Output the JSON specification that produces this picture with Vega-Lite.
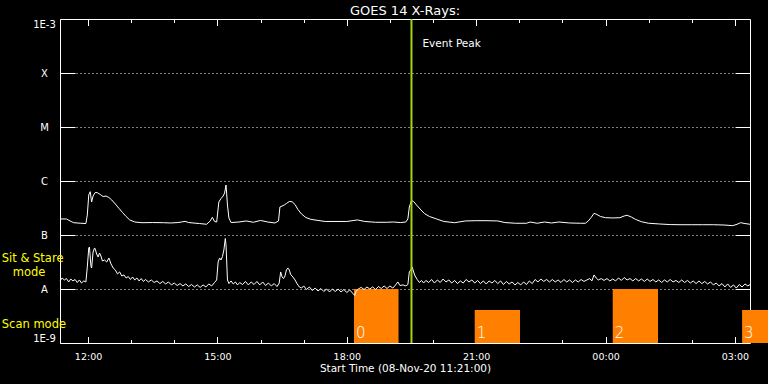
{
  "$schema": "https://vega.github.io/schema/vega-lite/v6.json",
  "width": 690,
  "height": 324,
  "autosize": "none",
  "padding": {"left": 60, "top": 19, "right": 18, "bottom": 41},
  "background": "black",
  "title": {"text": "GOES 14 X-Rays:", "color": "white", "font": "DejaVu Sans", "fontSize": 13, "fontWeight": "normal", "anchor": "middle", "frame": "group", "offset": 0},
  "config": {
    "view": {"stroke": "white", "strokeWidth": 1},
    "axis": {"domain": false, "grid": false, "labelFont": "DejaVu Sans", "labelColor": "white", "tickColor": "white", "titleColor": "white", "titleFont": "DejaVu Sans", "titleFontWeight": "normal"}
  },
  "datasets": {
    "scans": [
      {"start": 18.167, "end": 19.2, "top": 1e-8, "scan": "0"},
      {"start": 20.967, "end": 22.017, "top": 4.1e-9, "scan": "1"},
      {"start": 24.167, "end": 25.217, "top": 1e-8, "scan": "2"},
      {"start": 27.167, "end": 27.85, "top": 4.1e-9, "scan": "3"}
    ],
    "event": [{"h": 19.5, "label": "Event Peak", "v": 3.03e-4}],
    "modes": [
      {"label": "Sit & Stare", "v": 3.16e-8},
      {"label": "mode", "v": 1.74e-8},
      {"label": "Scan mode", "v": 1.87e-9}
    ],
    "long": [
      {"h":11.35,"v":1.98e-7},{"h":11.5,"v":1.98e-7},{"h":11.583,"v":1.82e-7},{"h":11.667,"v":1.69e-7},{"h":11.833,"v":1.65e-7},{"h":11.95,"v":1.63e-7},{"h":11.983,"v":2.35e-7},{"h":12.017,"v":5.51e-7},{"h":12.05,"v":6.34e-7},{"h":12.083,"v":4.08e-7},{"h":12.117,"v":5.27e-7},{"h":12.167,"v":6.13e-7},{"h":12.217,"v":6.08e-7},{"h":12.283,"v":5.62e-7},{"h":12.35,"v":5.16e-7},{"h":12.417,"v":5.27e-7},{"h":12.483,"v":4.95e-7},{"h":12.55,"v":4.45e-7},{"h":12.633,"v":3.75e-7},{"h":12.717,"v":3.12e-7},{"h":12.8,"v":2.61e-7},{"h":12.883,"v":2.20e-7},{"h":12.967,"v":1.90e-7},{"h":13.083,"v":1.74e-7},{"h":13.25,"v":1.69e-7},{"h":13.5,"v":1.70e-7},{"h":13.75,"v":1.69e-7},{"h":13.917,"v":1.67e-7},{"h":14.083,"v":1.70e-7},{"h":14.167,"v":1.74e-7},{"h":14.25,"v":1.79e-7},{"h":14.333,"v":1.70e-7},{"h":14.583,"v":1.63e-7},{"h":14.75,"v":1.58e-7},{"h":14.833,"v":1.82e-7},{"h":14.883,"v":2.13e-7},{"h":14.933,"v":1.78e-7},{"h":14.983,"v":1.74e-7},{"h":15.033,"v":4.08e-7},{"h":15.083,"v":4.74e-7},{"h":15.133,"v":5.27e-7},{"h":15.167,"v":6.00e-7},{"h":15.2,"v":8.43e-7},{"h":15.233,"v":3.59e-7},{"h":15.267,"v":2.07e-7},{"h":15.317,"v":1.70e-7},{"h":15.5,"v":1.74e-7},{"h":15.667,"v":1.82e-7},{"h":15.833,"v":1.72e-7},{"h":16.0,"v":1.86e-7},{"h":16.167,"v":1.74e-7},{"h":16.333,"v":1.67e-7},{"h":16.417,"v":1.82e-7},{"h":16.45,"v":3.30e-7},{"h":16.5,"v":3.44e-7},{"h":16.55,"v":3.59e-7},{"h":16.6,"v":3.83e-7},{"h":16.667,"v":4.17e-7},{"h":16.733,"v":4.13e-7},{"h":16.8,"v":3.67e-7},{"h":16.867,"v":2.97e-7},{"h":16.95,"v":2.45e-7},{"h":17.05,"v":2.11e-7},{"h":17.167,"v":1.95e-7},{"h":17.333,"v":1.86e-7},{"h":17.5,"v":1.78e-7},{"h":17.75,"v":1.78e-7},{"h":18.0,"v":1.78e-7},{"h":18.167,"v":1.86e-7},{"h":18.25,"v":1.90e-7},{"h":18.417,"v":1.78e-7},{"h":18.667,"v":1.72e-7},{"h":18.917,"v":1.72e-7},{"h":19.083,"v":1.74e-7},{"h":19.25,"v":1.70e-7},{"h":19.367,"v":1.74e-7},{"h":19.417,"v":1.98e-7},{"h":19.45,"v":3.30e-7},{"h":19.5,"v":4.35e-7},{"h":19.55,"v":4.17e-7},{"h":19.617,"v":3.59e-7},{"h":19.7,"v":3.03e-7},{"h":19.8,"v":2.50e-7},{"h":19.917,"v":2.20e-7},{"h":20.083,"v":1.98e-7},{"h":20.25,"v":1.78e-7},{"h":20.5,"v":1.69e-7},{"h":20.75,"v":1.82e-7},{"h":21.0,"v":1.84e-7},{"h":21.25,"v":1.84e-7},{"h":21.5,"v":1.82e-7},{"h":21.667,"v":1.70e-7},{"h":21.917,"v":1.65e-7},{"h":22.167,"v":1.65e-7},{"h":22.25,"v":1.74e-7},{"h":22.417,"v":1.65e-7},{"h":22.583,"v":1.74e-7},{"h":22.75,"v":1.67e-7},{"h":22.917,"v":1.74e-7},{"h":23.167,"v":1.67e-7},{"h":23.417,"v":1.65e-7},{"h":23.533,"v":1.65e-7},{"h":23.6,"v":1.82e-7},{"h":23.667,"v":2.11e-7},{"h":23.733,"v":2.52e-7},{"h":23.8,"v":2.40e-7},{"h":23.883,"v":2.20e-7},{"h":24.0,"v":2.09e-7},{"h":24.167,"v":2.07e-7},{"h":24.333,"v":2.09e-7},{"h":24.433,"v":2.25e-7},{"h":24.5,"v":2.32e-7},{"h":24.6,"v":2.15e-7},{"h":24.7,"v":1.94e-7},{"h":24.833,"v":1.76e-7},{"h":25.0,"v":1.65e-7},{"h":25.25,"v":1.60e-7},{"h":25.5,"v":1.56e-7},{"h":25.75,"v":1.55e-7},{"h":26.0,"v":1.55e-7},{"h":26.25,"v":1.55e-7},{"h":26.5,"v":1.55e-7},{"h":26.75,"v":1.53e-7},{"h":26.95,"v":1.49e-7},{"h":27.05,"v":1.58e-7},{"h":27.133,"v":1.69e-7},{"h":27.233,"v":1.63e-7},{"h":27.35,"v":1.58e-7}
    ],
    "short": [
      {"h":11.35,"v":1.41e-8},{"h":11.4,"v":1.60e-8},{"h":11.45,"v":1.47e-8},{"h":11.5,"v":1.56e-8},{"h":11.55,"v":1.35e-8},{"h":11.6,"v":1.53e-8},{"h":11.65,"v":1.41e-8},{"h":11.7,"v":1.50e-8},{"h":11.75,"v":1.32e-8},{"h":11.8,"v":1.47e-8},{"h":11.85,"v":1.29e-8},{"h":11.9,"v":1.41e-8},{"h":11.95,"v":1.35e-8},{"h":11.983,"v":2.56e-8},{"h":12.017,"v":5.75e-8},{"h":12.033,"v":6.00e-8},{"h":12.067,"v":2.67e-8},{"h":12.083,"v":2.45e-8},{"h":12.117,"v":4.84e-8},{"h":12.15,"v":5.75e-8},{"h":12.167,"v":5.51e-8},{"h":12.2,"v":4.45e-8},{"h":12.233,"v":3.91e-8},{"h":12.267,"v":4.64e-8},{"h":12.3,"v":4.08e-8},{"h":12.333,"v":3.30e-8},{"h":12.383,"v":3.44e-8},{"h":12.433,"v":3.16e-8},{"h":12.483,"v":3.75e-8},{"h":12.533,"v":2.91e-8},{"h":12.583,"v":2.45e-8},{"h":12.633,"v":2.25e-8},{"h":12.683,"v":1.90e-8},{"h":12.733,"v":2.07e-8},{"h":12.783,"v":1.74e-8},{"h":12.833,"v":1.82e-8},{"h":12.883,"v":1.60e-8},{"h":12.933,"v":1.70e-8},{"h":12.983,"v":1.50e-8},{"h":13.033,"v":1.67e-8},{"h":13.083,"v":1.47e-8},{"h":13.133,"v":1.60e-8},{"h":13.183,"v":1.41e-8},{"h":13.233,"v":1.56e-8},{"h":13.283,"v":1.38e-8},{"h":13.333,"v":1.50e-8},{"h":13.4,"v":1.35e-8},{"h":13.467,"v":1.47e-8},{"h":13.533,"v":1.32e-8},{"h":13.6,"v":1.41e-8},{"h":13.667,"v":1.26e-8},{"h":13.733,"v":1.38e-8},{"h":13.8,"v":1.24e-8},{"h":13.867,"v":1.35e-8},{"h":13.933,"v":1.19e-8},{"h":14.0,"v":1.29e-8},{"h":14.067,"v":1.16e-8},{"h":14.133,"v":1.26e-8},{"h":14.2,"v":1.14e-8},{"h":14.267,"v":1.24e-8},{"h":14.333,"v":1.11e-8},{"h":14.4,"v":1.21e-8},{"h":14.467,"v":1.09e-8},{"h":14.533,"v":1.19e-8},{"h":14.6,"v":1.07e-8},{"h":14.667,"v":1.19e-8},{"h":14.733,"v":1.09e-8},{"h":14.8,"v":1.24e-8},{"h":14.867,"v":1.14e-8},{"h":14.933,"v":1.32e-8},{"h":14.983,"v":1.47e-8},{"h":15.017,"v":3.16e-8},{"h":15.05,"v":3.75e-8},{"h":15.083,"v":3.44e-8},{"h":15.117,"v":3.99e-8},{"h":15.15,"v":5.27e-8},{"h":15.183,"v":8.62e-8},{"h":15.2,"v":6.53e-8},{"h":15.233,"v":1.47e-8},{"h":15.267,"v":1.26e-8},{"h":15.317,"v":1.41e-8},{"h":15.367,"v":1.24e-8},{"h":15.417,"v":1.35e-8},{"h":15.467,"v":1.19e-8},{"h":15.517,"v":1.32e-8},{"h":15.583,"v":1.21e-8},{"h":15.65,"v":1.38e-8},{"h":15.717,"v":1.19e-8},{"h":15.783,"v":1.35e-8},{"h":15.85,"v":1.21e-8},{"h":15.917,"v":1.38e-8},{"h":15.983,"v":1.19e-8},{"h":16.05,"v":1.35e-8},{"h":16.117,"v":1.16e-8},{"h":16.183,"v":1.29e-8},{"h":16.25,"v":1.14e-8},{"h":16.317,"v":1.26e-8},{"h":16.383,"v":1.11e-8},{"h":16.433,"v":1.29e-8},{"h":16.467,"v":2.07e-8},{"h":16.5,"v":1.67e-8},{"h":16.533,"v":1.56e-8},{"h":16.567,"v":1.74e-8},{"h":16.6,"v":2.25e-8},{"h":16.633,"v":2.45e-8},{"h":16.667,"v":2.25e-8},{"h":16.7,"v":1.85e-8},{"h":16.75,"v":1.67e-8},{"h":16.8,"v":1.47e-8},{"h":16.85,"v":1.24e-8},{"h":16.9,"v":1.09e-8},{"h":16.95,"v":1.04e-8},{"h":17.0,"v":1.14e-8},{"h":17.067,"v":0.979e-8},{"h":17.133,"v":1.09e-8},{"h":17.2,"v":0.938e-8},{"h":17.267,"v":1.04e-8},{"h":17.333,"v":0.918e-8},{"h":17.4,"v":1.02e-8},{"h":17.467,"v":0.899e-8},{"h":17.533,"v":1.00e-8},{"h":17.6,"v":0.880e-8},{"h":17.667,"v":1.00e-8},{"h":17.733,"v":0.899e-8},{"h":17.8,"v":1.00e-8},{"h":17.867,"v":0.880e-8},{"h":17.933,"v":0.979e-8},{"h":18.0,"v":0.861e-8},{"h":18.067,"v":0.958e-8},{"h":18.133,"v":0.843e-8},{"h":18.183,"v":0.758e-8},{"h":18.217,"v":0.918e-8},{"h":18.267,"v":1.00e-8},{"h":18.333,"v":1.07e-8},{"h":18.4,"v":0.979e-8},{"h":18.467,"v":1.09e-8},{"h":18.533,"v":1.00e-8},{"h":18.6,"v":1.09e-8},{"h":18.667,"v":0.979e-8},{"h":18.733,"v":1.11e-8},{"h":18.8,"v":1.02e-8},{"h":18.867,"v":1.14e-8},{"h":18.933,"v":1.02e-8},{"h":19.0,"v":1.14e-8},{"h":19.067,"v":1.04e-8},{"h":19.133,"v":1.19e-8},{"h":19.183,"v":1.35e-8},{"h":19.233,"v":1.16e-8},{"h":19.3,"v":1.19e-8},{"h":19.367,"v":1.14e-8},{"h":19.417,"v":1.21e-8},{"h":19.45,"v":2.07e-8},{"h":19.483,"v":2.25e-8},{"h":19.517,"v":2.56e-8},{"h":19.55,"v":2.07e-8},{"h":19.583,"v":1.74e-8},{"h":19.633,"v":1.50e-8},{"h":19.683,"v":1.32e-8},{"h":19.733,"v":1.44e-8},{"h":19.783,"v":1.29e-8},{"h":19.833,"v":1.44e-8},{"h":19.9,"v":1.32e-8},{"h":19.967,"v":1.50e-8},{"h":20.033,"v":1.29e-8},{"h":20.1,"v":1.47e-8},{"h":20.167,"v":1.32e-8},{"h":20.233,"v":1.53e-8},{"h":20.3,"v":1.35e-8},{"h":20.367,"v":1.47e-8},{"h":20.433,"v":1.29e-8},{"h":20.5,"v":1.44e-8},{"h":20.567,"v":1.26e-8},{"h":20.633,"v":1.41e-8},{"h":20.7,"v":1.29e-8},{"h":20.767,"v":1.50e-8},{"h":20.833,"v":1.35e-8},{"h":20.9,"v":1.47e-8},{"h":20.967,"v":1.29e-8},{"h":21.033,"v":1.44e-8},{"h":21.1,"v":1.26e-8},{"h":21.167,"v":1.41e-8},{"h":21.233,"v":1.24e-8},{"h":21.3,"v":1.41e-8},{"h":21.367,"v":1.29e-8},{"h":21.433,"v":1.44e-8},{"h":21.5,"v":1.26e-8},{"h":21.567,"v":1.41e-8},{"h":21.633,"v":1.21e-8},{"h":21.7,"v":1.38e-8},{"h":21.767,"v":1.24e-8},{"h":21.833,"v":1.35e-8},{"h":21.9,"v":1.19e-8},{"h":21.967,"v":1.32e-8},{"h":22.033,"v":1.19e-8},{"h":22.1,"v":1.35e-8},{"h":22.167,"v":1.21e-8},{"h":22.233,"v":1.41e-8},{"h":22.3,"v":1.26e-8},{"h":22.367,"v":1.50e-8},{"h":22.433,"v":1.35e-8},{"h":22.5,"v":1.53e-8},{"h":22.567,"v":1.38e-8},{"h":22.633,"v":1.50e-8},{"h":22.7,"v":1.35e-8},{"h":22.767,"v":1.50e-8},{"h":22.833,"v":1.35e-8},{"h":22.9,"v":1.47e-8},{"h":22.967,"v":1.32e-8},{"h":23.033,"v":1.50e-8},{"h":23.1,"v":1.35e-8},{"h":23.167,"v":1.47e-8},{"h":23.233,"v":1.32e-8},{"h":23.3,"v":1.47e-8},{"h":23.367,"v":1.35e-8},{"h":23.433,"v":1.50e-8},{"h":23.5,"v":1.38e-8},{"h":23.567,"v":1.47e-8},{"h":23.633,"v":1.56e-8},{"h":23.683,"v":1.41e-8},{"h":23.733,"v":1.82e-8},{"h":23.783,"v":1.60e-8},{"h":23.833,"v":1.47e-8},{"h":23.9,"v":1.56e-8},{"h":23.967,"v":1.44e-8},{"h":24.033,"v":1.56e-8},{"h":24.1,"v":1.41e-8},{"h":24.167,"v":1.53e-8},{"h":24.233,"v":1.41e-8},{"h":24.3,"v":1.60e-8},{"h":24.367,"v":1.44e-8},{"h":24.433,"v":1.63e-8},{"h":24.5,"v":1.47e-8},{"h":24.567,"v":1.56e-8},{"h":24.633,"v":1.41e-8},{"h":24.7,"v":1.56e-8},{"h":24.767,"v":1.41e-8},{"h":24.833,"v":1.53e-8},{"h":24.9,"v":1.38e-8},{"h":24.967,"v":1.53e-8},{"h":25.033,"v":1.38e-8},{"h":25.1,"v":1.50e-8},{"h":25.167,"v":1.35e-8},{"h":25.233,"v":1.47e-8},{"h":25.3,"v":1.32e-8},{"h":25.367,"v":1.47e-8},{"h":25.433,"v":1.35e-8},{"h":25.5,"v":1.50e-8},{"h":25.567,"v":1.35e-8},{"h":25.633,"v":1.44e-8},{"h":25.7,"v":1.32e-8},{"h":25.767,"v":1.47e-8},{"h":25.833,"v":1.32e-8},{"h":25.9,"v":1.44e-8},{"h":25.967,"v":1.29e-8},{"h":26.033,"v":1.41e-8},{"h":26.1,"v":1.26e-8},{"h":26.167,"v":1.41e-8},{"h":26.233,"v":1.26e-8},{"h":26.3,"v":1.38e-8},{"h":26.367,"v":1.24e-8},{"h":26.433,"v":1.35e-8},{"h":26.5,"v":1.19e-8},{"h":26.567,"v":1.29e-8},{"h":26.633,"v":1.14e-8},{"h":26.7,"v":1.26e-8},{"h":26.767,"v":1.09e-8},{"h":26.833,"v":1.24e-8},{"h":26.9,"v":1.07e-8},{"h":26.967,"v":1.19e-8},{"h":27.033,"v":1.04e-8},{"h":27.1,"v":1.21e-8},{"h":27.167,"v":1.09e-8},{"h":27.233,"v":1.24e-8},{"h":27.3,"v":1.14e-8},{"h":27.35,"v":1.21e-8}
    ]
  },
  "layer": [
    {
      "data": {"name": "scans"},
      "mark": {"type": "rect", "color": "#ff8000"},
      "encoding": {
        "x": {"field": "start", "type": "quantitative", "scale": {"domain": [11.35, 27.35], "nice": false, "zero": false},
          "axis": {"orient": "bottom", "values": [12, 13, 14, 15, 16, 17, 18, 19, 20, 21, 22, 23, 24, 25, 26, 27], "offset": -3.5, "tickSize": 3.5, "labels": false, "title": null}},
        "x2": {"field": "end"},
        "y": {"field": "top", "type": "quantitative", "scale": {"type": "log", "domain": [1e-9, 1e-3], "nice": false},
          "axis": {"orient": "right", "values": [1e-8, 1e-7, 1e-6, 1e-5, 1e-4], "offset": -15, "tickSize": 15, "labels": false, "title": null}},
        "y2": {"datum": 1e-9}
      }
    },
    {
      "data": {"name": "scans"},
      "mark": {"type": "text", "align": "left", "baseline": "alphabetic", "dx": 2, "dy": -5, "font": "DejaVu Sans", "fontSize": 15, "fontWeight": 200, "color": "white"},
      "encoding": {
        "x": {"field": "start", "type": "quantitative", "axis": {"orient": "top", "values": [12, 15, 18, 21, 24, 27], "offset": -6.5, "tickSize": 6.5, "labels": false, "title": null}},
        "y": {"datum": 1e-9, "axis": null},
        "text": {"field": "scan"}
      }
    },
    {
      "data": {"name": "long"},
      "mark": {"type": "line", "color": "white", "strokeWidth": 1},
      "encoding": {
        "x": {"field": "h", "type": "quantitative",
          "axis": {"orient": "bottom", "values": [12, 15, 18, 21, 24, 27], "labelExpr": "(datum.value % 24 < 10 ? '0' : '') + (datum.value % 24) + ':00'", "offset": -6.5, "tickSize": 6.5, "labelPadding": 8.5, "labelFontSize": 9.5, "labelFlush": false, "labelOverlap": false, "title": "Start Time (08-Nov-20 11:21:00)", "titleFontSize": 10.5, "titlePadding": 2}},
        "y": {"field": "v", "type": "quantitative",
          "axis": {"orient": "left", "values": [1e-9, 1e-8, 1e-7, 1e-6, 1e-5, 1e-4, 1e-3], "labelExpr": "datum.value > 0.0005 ? '1E-3' : datum.value > 0.00005 ? 'X' : datum.value > 0.000005 ? 'M' : datum.value > 0.0000005 ? 'C' : datum.value > 0.00000005 ? 'B' : datum.value > 0.000000005 ? 'A' : '1E-9'", "offset": -15, "tickSize": 15, "labelPadding": 16, "labelAlign": "center", "labelFontSize": 10, "labelFlush": true, "labelOverlap": false, "title": null}}
      }
    },
    {
      "data": {"name": "short"},
      "mark": {"type": "line", "color": "white", "strokeWidth": 1},
      "encoding": {
        "x": {"field": "h", "type": "quantitative", "axis": {"orient": "top", "values": [12, 13, 14, 15, 16, 17, 18, 19, 20, 21, 22, 23, 24, 25, 26, 27], "offset": -3.5, "tickSize": 3.5, "labels": false, "title": null}},
        "y": {"field": "v", "type": "quantitative", "axis": {"orient": "left", "values": [1e-8, 1e-7, 1e-6, 1e-5, 1e-4], "ticks": false, "labels": false, "title": null, "grid": true, "gridColor": "white", "gridDash": [1, 3], "gridOpacity": 1, "gridWidth": 1}}
      }
    },
    {
      "data": {"name": "event"},
      "mark": {"type": "rule", "color": "#a4d40c", "strokeWidth": 2},
      "encoding": {
        "x": {"field": "h", "type": "quantitative", "axis": null}
      }
    },
    {
      "data": {"name": "event"},
      "mark": {"type": "text", "align": "left", "baseline": "alphabetic", "dx": 11, "font": "DejaVu Sans", "fontSize": 10.5, "color": "white"},
      "encoding": {
        "x": {"field": "h", "type": "quantitative", "axis": null},
        "y": {"field": "v", "type": "quantitative", "axis": null},
        "text": {"field": "label"}
      }
    },
    {
      "data": {"name": "modes"},
      "transform": [{"filter": "datum.label !== 'mode'"}],
      "mark": {"type": "text", "align": "left", "baseline": "alphabetic", "font": "DejaVu Sans", "fontSize": 11.5, "color": "#ffff00"},
      "encoding": {
        "x": {"datum": 10.0, "type": "quantitative", "axis": null},
        "y": {"field": "v", "type": "quantitative", "axis": null},
        "text": {"field": "label"}
      }
    },
    {
      "data": {"name": "modes"},
      "transform": [{"filter": "datum.label === 'mode'"}],
      "mark": {"type": "text", "align": "left", "baseline": "alphabetic", "dx": 11, "font": "DejaVu Sans", "fontSize": 11.5, "color": "#ffff00"},
      "encoding": {
        "x": {"datum": 10.0, "type": "quantitative", "axis": null},
        "y": {"field": "v", "type": "quantitative", "axis": null},
        "text": {"field": "label"}
      }
    }
  ],
  "resolve": {"axis": {"x": "independent", "y": "independent"}}
}
